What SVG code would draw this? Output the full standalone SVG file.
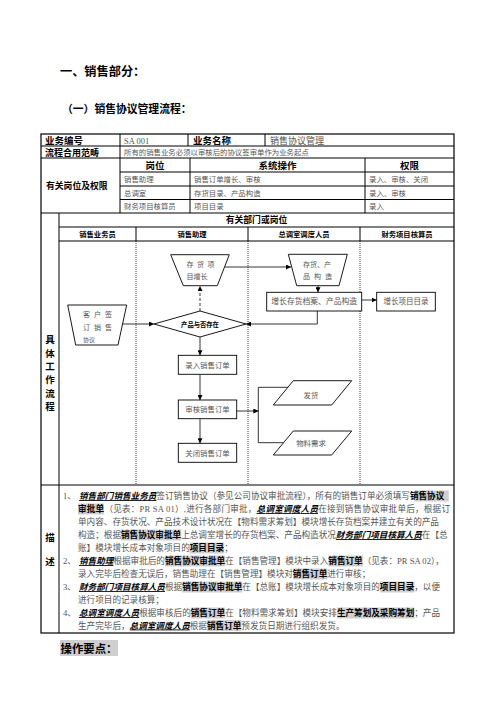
<svg xmlns="http://www.w3.org/2000/svg" width="496" height="702" viewBox="0 0 496 702">
<style>
text{font-family:"Liberation Serif","Noto Sans CJK SC",serif;}
.h{font-family:"Noto Sans CJK SC",sans-serif;font-weight:bold;fill:#000}
.n{fill:#555}
.bi{font-family:"Noto Sans CJK SC",sans-serif;font-weight:bold;font-style:italic;text-decoration:underline;fill:#000}
.bd{font-family:"Noto Sans CJK SC",sans-serif;font-weight:bold;fill:#000}
.ln{stroke:#000;stroke-width:0.8;fill:none}
.tb{stroke:#000;stroke-width:1;fill:none}
.box{fill:#fff;stroke:#000;stroke-width:0.9}
.dot{stroke:#000;stroke-width:0.8;stroke-dasharray:1 1}
.hl{fill:#cfcfcf}
.c{text-anchor:middle}
.f7{font-size:7.4px}
</style>
<defs>
<marker id="ah" viewBox="0 0 10 10" refX="10" refY="5" markerWidth="5" markerHeight="5" orient="auto" markerUnits="userSpaceOnUse"><path d="M0,0 L10,5 L0,10 z" fill="#000"/></marker>
</defs>
<rect width="496" height="702" fill="#fff"/>
<text x="60" y="76" class="h" font-size="12.2">一、销售部分：</text>
<text x="62" y="113" class="h" font-size="10.8">（一）销售协议管理流程：</text>

<g id="table">
<rect x="41" y="134" width="413" height="499" fill="none" stroke="#000" stroke-width="1.2"/>
<path class="tb" d="M41,146H454M41,158H454M120,172H454M120,186H454M120,199.5H454M41,213H454M59,227H454M59,241H454M41,485H454"/>
<path class="tb" d="M120,134V213M188,134V146M265,134V146M190,158V213M365,158V213M59,213V633M136,227V241M248,227V241M360,227V241"/>
<path class="dot" d="M136,241V485M248,241V485M360,241V485"/>
<text x="45" y="143.5" class="h" font-size="9.5">业务编号</text>
<text x="124" y="143.5" class="n" font-size="8.5">SA 001</text>
<text x="193" y="143.5" class="h" font-size="9.5">业务名称</text>
<text x="270" y="143.5" class="n" font-size="9">销售协议管理</text>
<text x="45" y="155.5" class="h" font-size="9">流程合用范畴</text>
<text x="124" y="155" class="n" font-size="7.4">所有的销售业务必须以审核后的协议签审单作为业务起点</text>
<text x="46" y="189" class="h" font-size="8.8">有关岗位及权限</text>
<text x="155" y="168.5" class="h c" font-size="9.5">岗位</text>
<text x="277.5" y="168.5" class="h c" font-size="9.5">系统操作</text>
<text x="409.5" y="168.5" class="h c" font-size="9.5">权限</text>
<text x="124" y="182" class="n f7">销售助理</text>
<text x="194" y="182" class="n f7">销售订单增长、审核</text>
<text x="369" y="182" class="n f7">录入、审核、关闭</text>
<text x="124" y="195.5" class="n f7">总调室</text>
<text x="194" y="195.5" class="n f7">存货目录、产品构造</text>
<text x="369" y="195.5" class="n f7">录入、审核</text>
<text x="124" y="209" class="n f7">财务项目核算员</text>
<text x="194" y="209" class="n f7">项目目录</text>
<text x="369" y="209" class="n f7">录入</text>
<text x="256.5" y="223.3" class="h c" font-size="8.8">有关部门或岗位</text>
<text x="97.5" y="236.6" class="h c" font-size="7.3">销售业务员</text>
<text x="192" y="236.6" class="h c" font-size="7.3">销售助理</text>
<text x="304" y="236.6" class="h c" font-size="7.3">总调室调度人员</text>
<text x="407" y="236.6" class="h c" font-size="7.3">财务项目核算员</text>
<g class="h c" font-size="9.5">
<text x="50" y="342.5">具</text><text x="50" y="356.5">体</text><text x="50" y="369.5">工</text><text x="50" y="382.5">作</text><text x="50" y="396.5">流</text><text x="50" y="409.5">程</text>
<text x="50" y="540.5">描</text><text x="50" y="564.5">述</text>
</g>
</g>

<g id="connectors" class="ln">
<line x1="122.6" y1="324" x2="154" y2="324" marker-end="url(#ah)"/>
<line x1="200" y1="311" x2="200" y2="286" stroke-dasharray="3 2" marker-end="url(#ah)"/>
<line x1="224.5" y1="267" x2="291" y2="267" marker-end="url(#ah)"/>
<line x1="318" y1="285.7" x2="318" y2="292.3" marker-end="url(#ah)"/>
<line x1="361.7" y1="300" x2="376.7" y2="300" marker-end="url(#ah)"/>
<polyline points="317.3,311 317.3,324 246,324" marker-end="url(#ah)"/>
<line x1="200" y1="337" x2="200" y2="355.3" marker-end="url(#ah)"/>
<line x1="200" y1="374.3" x2="200" y2="400" marker-end="url(#ah)"/>
<line x1="200" y1="418.7" x2="200" y2="443.3" marker-end="url(#ah)"/>
<line x1="236.7" y1="411" x2="258.3" y2="411" marker-end="url(#ah)"/>
<polyline points="288,387.3 258.3,387.3 258.3,442.7 283.3,442.7"/>
</g>

<g id="n-customer">
<polygon class="box" points="67.7,305 126.7,305 118,345 75.7,345"/>
<text x="83" y="317" class="n" font-size="7" letter-spacing="4">客户签</text>
<text x="83" y="330" class="n" font-size="7" letter-spacing="4">订销售</text>
<text x="83" y="342" class="n" font-size="6">协议</text>
</g>
<g id="n-inv-item">
<polygon class="box" points="170.7,254.7 229.3,254.7 217.3,285.7 183.3,285.7"/>
<text x="186.5" y="266.5" class="n" font-size="7" letter-spacing="3.5">存货项</text>
<text x="186.5" y="278.5" class="n" font-size="7">目增长</text>
</g>
<g id="n-inv-struct">
<polygon class="box" points="288.3,254.3 347.3,254.3 339,285.7 296.7,285.7"/>
<text x="303" y="266.5" class="n" font-size="7">存货、产</text>
<text x="303" y="279" class="n" font-size="7" letter-spacing="4">品构造</text>
</g>
<g id="n-decide">
<polygon class="box" points="154,324 200,311 246,324 200,337"/>
<text x="200" y="326.5" class="bd c" font-size="6.3">产品与否存在</text>
</g>
<g id="n-add-archive">
<rect class="box" x="266.7" y="292.3" width="95" height="18.7"/>
<text x="314.2" y="304.4" class="n c" font-size="7.8">增长存货档案、产品构造</text>
</g>
<g id="n-add-project">
<rect class="box" x="376.7" y="292.3" width="58.6" height="18.7"/>
<text x="406" y="304.2" class="n c" font-size="7.5">增长项目目录</text>
</g>
<g id="n-enter">
<rect class="box" x="178.3" y="355.3" width="58.4" height="19"/>
<text x="207.5" y="367.6" class="n c" font-size="7.4">录入销售订单</text>
</g>
<g id="n-audit">
<rect class="box" x="178.3" y="400" width="58.4" height="18.7"/>
<text x="207.5" y="412" class="n c" font-size="7.4">审核销售订单</text>
</g>
<g id="n-close">
<rect class="box" x="178.3" y="443.3" width="58.4" height="19"/>
<text x="207.5" y="455.6" class="n c" font-size="7.4">关闭销售订单</text>
</g>
<g id="n-ship">
<polygon class="box" points="293.3,380.7 351.7,380.7 331.7,405 273.3,405"/>
<text x="311" y="397.5" class="n c" font-size="7.4">发货</text>
</g>
<g id="n-material">
<polygon class="box" points="293.3,431 351.7,431 331.7,455 273.3,455"/>
<text x="311" y="446" class="n c" font-size="7.4">物料需求</text>
</g>

<g id="description" font-size="8.6">
<rect class="hl" x="414.4" y="490.5" width="34.4" height="11"/>
<rect class="hl" x="78" y="503.5" width="26" height="11"/>
<rect class="hl" x="121" y="529.5" width="60.2" height="11"/>
<rect class="hl" x="189.8" y="542.5" width="34.4" height="11"/>
<rect class="hl" x="165" y="555.5" width="60.2" height="11"/>
<rect class="hl" x="328.4" y="555.5" width="34.4" height="11"/>
<rect class="hl" x="293" y="568.5" width="34.4" height="11"/>
<rect class="hl" x="182.2" y="581.5" width="60.2" height="11"/>
<rect class="hl" x="380" y="581.5" width="34.4" height="11"/>
<rect class="hl" x="190.8" y="607.5" width="34.4" height="11"/>
<rect class="hl" x="337" y="607.5" width="77.4" height="11"/>
<rect class="hl" x="207" y="620" width="34.4" height="11"/>
<text y="499" class="n"><tspan x="63">1、</tspan><tspan x="79" class="bi">销售部门销售业务员</tspan>签订销售协议（参见公司协议审批流程），所有的销售订单必须填写<tspan class="bd">销售协议</tspan></text>
<text y="512" x="78" class="n" textLength="372" lengthAdjust="spacing"><tspan class="bd">审批单</tspan>（见表：PR SA 01）,进行各部门审批，<tspan class="bi">总调室调度人员</tspan>在接到销售协议审批单后，根据订</text>
<text y="525" x="78" class="n">单内容、存货状况、产品技术设计状况在【物料需求筹划】模块增长存货档案并建立有关的产品</text>
<text y="538" x="78" class="n">构造；根据<tspan class="bd">销售协议审批单</tspan>上总调室增长的存货档案、产品构造状况<tspan class="bi">财务部门项目核算人员</tspan>在【总</text>
<text y="551" x="78" class="n">账】模块增长成本对象项目的<tspan class="bd">项目目录</tspan>；</text>
<text y="564" class="n"><tspan x="63">2、</tspan><tspan x="79" class="bi">销售助理</tspan>根据审批后的<tspan class="bd">销售协议审批单</tspan>在【销售管理】模块中录入<tspan class="bd">销售订单</tspan>（见表：PR SA 02），</text>
<text y="577" x="78" class="n">录入完毕后检查无误后，销售助理在【销售管理】模块对<tspan class="bd">销售订单</tspan>进行审核；</text>
<text y="590" class="n"><tspan x="63">3、</tspan><tspan x="79" class="bi">财务部门项目核算人员</tspan>根据<tspan class="bd">销售协议审批单</tspan>在【总账】模块增长成本对象项目的<tspan class="bd">项目目录</tspan>，以便</text>
<text y="603" x="78" class="n">进行项目的记录核算；</text>
<text y="616" class="n"><tspan x="63">4、</tspan><tspan x="79" class="bi">总调室调度人员</tspan>根据审核后的<tspan class="bd">销售订单</tspan>在【物料需求筹划】模块安排<tspan class="bd">生产筹划及采购筹划</tspan>；产品</text>
<text y="628.5" x="78" class="n">生产完毕后，<tspan class="bi">总调室调度人员</tspan>根据<tspan class="bd">销售订单</tspan>预发货日期进行组织发货。</text>
</g>

<rect class="hl" x="60" y="640" width="58" height="16"/>
<text x="60.5" y="652.5" class="h" font-size="11.4">操作要点：</text>
</svg>
